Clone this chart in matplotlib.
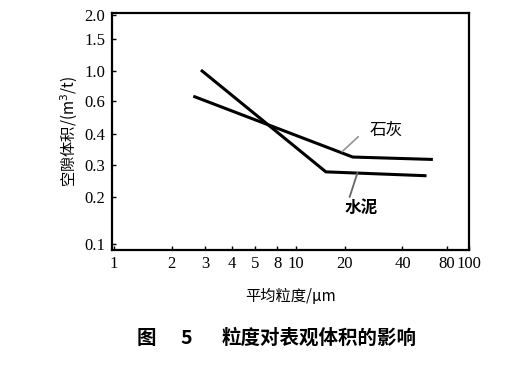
import numpy as np
import matplotlib
matplotlib.use('Agg')
import matplotlib.pyplot as plt

# data
cement_x = [2.9, 15.3, 57]
cement_y = [1.0, 0.275, 0.262]
lime_x = [2.65, 22, 63]
lime_y = [0.645, 0.323, 0.316]

xticks = [1, 2, 3, 4, 5, 8, 10, 20, 40, 80, 100]
xtick_labels = ['1', '2', '3', '4', '5', '8', '10', '20', '40', '80', '100']
yticks = [0.1, 0.2, 0.3, 0.4, 0.6, 1.0, 1.5, 2.0]
ytick_labels = ['0.1', '0.2', '0.3', '0.4', '0.6', '1.0', '1.5', '2.0']

W, H = 532, 371

# the original axes are hand drawn, not a true log scale:
# piecewise log scale anchored at the printed tick positions (pixels)
xa_val = np.log10([0.5, 1, 2, 3, 4, 5, 8, 10, 20, 40, 80, 100, 200])
xa_pos = np.array([55, 114, 173, 207, 235, 258, 281, 300, 350, 409, 454, 477, 548], float)
ya_val = np.log10([0.05, 0.1, 0.2, 0.3, 0.4, 0.6, 1.0, 1.5, 2.0, 4.0])
ya_pos = H - np.array([296, 244, 197, 165, 134, 101, 71, 39, 15, -60], float)


def fx(v):
    with np.errstate(divide='ignore', invalid='ignore'):
        return np.interp(np.log10(np.clip(v, 1e-6, None)), xa_val, xa_pos)


def fx_inv(p):
    return 10 ** np.interp(p, xa_pos, xa_val)


def fy(v):
    with np.errstate(divide='ignore', invalid='ignore'):
        return np.interp(np.log10(np.clip(v, 1e-6, None)), ya_val, ya_pos)


def fy_inv(p):
    return 10 ** np.interp(p, ya_pos, ya_val)


cjk = ['Noto Sans CJK SC', 'DejaVu Sans']
serif = ['Liberation Serif', 'DejaVu Serif']

fig = plt.figure(figsize=(W / 100, H / 100), dpi=100)
left, right, bottom, top = 112, 469, 250, 13
ax = fig.add_axes([left / W, (H - bottom) / H, (right - left) / W, (bottom - top) / H])
ax.set_xscale('function', functions=(fx, fx_inv))
ax.set_yscale('function', functions=(fy, fy_inv))
ax.set_xlim(fx_inv(left), fx_inv(right))
ax.set_ylim(fy_inv(H - bottom), fy_inv(H - top))

ax.plot(cement_x, cement_y, color='black', lw=2.2, solid_joinstyle='miter')
ax.plot(lime_x, lime_y, color='black', lw=2.2, solid_joinstyle='miter')

# leader lines and labels
ax.annotate('', xy=(19.3, 0.34), xytext=(23.5, 0.39),
            arrowprops=dict(arrowstyle='-', color='#999999', lw=1.3, shrinkA=0, shrinkB=0))
ax.text(27.0, 0.42, '石灰', fontsize=12, family=cjk, ha='left', va='center')
ax.annotate('', xy=(23.3, 0.272), xytext=(21.2, 0.2),
            arrowprops=dict(arrowstyle='-', color='#666666', lw=1.3, shrinkA=0, shrinkB=0))
ax.text(24.5, 0.17, '水泥', fontsize=12, family=cjk, fontweight='bold',
        ha='center', va='center')

ax.set_xticks(xticks)
ax.set_xticklabels(xtick_labels, family=serif, fontsize=12)
ax.set_yticks(yticks)
ax.set_yticklabels(ytick_labels, family=serif, fontsize=12)
ax.minorticks_off()
ax.tick_params(direction='in', length=3, width=1, pad=4)
ax.tick_params(axis='y', pad=5)
for s in ax.spines.values():
    s.set_linewidth(1.6)

ax.set_xlabel('平均粒度/μm', family=cjk, fontsize=11, labelpad=12)
ax.set_ylabel('空隙体积/(m$^3$/t)', family=cjk, fontsize=11, labelpad=3)

cy = (H - 338) / H
fig.text(146 / W, cy, '图', family=cjk, fontsize=14, fontweight='bold', ha='center', va='center')
fig.text(186 / W, cy, '5', family=cjk, fontsize=14, fontweight='bold', ha='center', va='center')
fig.text(222 / W, cy, '粒度对表观体积的影响', family=cjk, fontsize=14, fontweight='bold',
         ha='left', va='center')

fig.savefig('out.png', dpi=100)
